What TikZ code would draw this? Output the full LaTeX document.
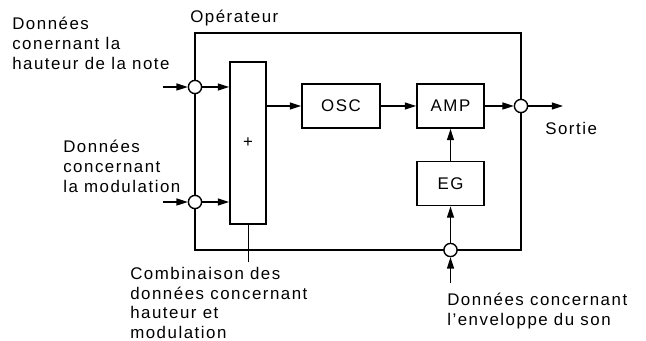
\documentclass[tikz,border=0pt]{standalone}
\usepackage{fontspec}
\setmainfont[LetterSpace=9]{Liberation Sans}
\usetikzlibrary{arrows.meta}

\begin{document}
\begin{tikzpicture}
[
	block/.style={draw,line width=1.3pt,minimum width=1.675cm,minimum height=1.1cm,inner sep=0pt,font=\fontsize{12}{14.2}\selectfont},
	junct/.style={circle,draw,fill=white,line width=1pt,inner sep=0pt,minimum size=0.33cm},
	sig/.style={line width=0.8pt,-{Triangle[length=8pt,width=5pt]}},
	lbl/.style={align=left,inner sep=0pt,font=\fontsize{12}{14.2}\selectfont},
	scale=1
]
	\useasboundingbox (0,0) rectangle (16.15,8.525);

	% operator frame
	\draw[line width=2pt] (4.875,2.275) rectangle (13.025,7.7);
	\node[lbl,anchor=base west] at (4.75,7.95) (op) {Opérateur};

	\node[block,minimum width=0.9cm,minimum height=4.05cm] at (6.2,4.95) (plus) {+};
	\node[block,minimum width=1.95cm] at (8.525,5.875) (osc) {OSC};
	\node[block] at (11.2625,5.875) (amp) {AMP};
	\node[block] at (11.2625,3.9375) (eg) {EG};

	\node[junct] at (4.875,6.35) (in1) {};
	\node[junct] at (4.875,3.475) (in2) {};
	\node[junct] at (13.025,5.875) (out) {};
	\node[junct] at (11.2625,2.275) (env) {};

	\coordinate (src1) at (4.075,6.35);
	\coordinate (src2) at (4.075,3.475);
	\coordinate (srcenv) at (11.2625,1.45);
	\coordinate (sortie) at (14.075,5.875);
	\coordinate (ptr) at (6.2,1.975);

	% signal paths
	\draw[sig] (src1) -- (in1);
	\draw[sig] (in1) -- (plus.west |- in1);
	\draw[sig] (src2) -- (in2);
	\draw[sig] (in2) -- (plus.west |- in2);
	\draw[sig] (plus.east |- osc.west) -- (osc.west);
	\draw[sig] (osc) -- (amp);
	\draw[sig] (amp) -- (out);
	\draw[sig] (out) -- (sortie);
	\draw[sig] (eg) -- (amp);
	\draw[sig] (env) -- (eg);
	\draw[sig] (srcenv) -- (env);
	\draw[line width=0.6pt] (plus.south) -- (ptr);

	% labels
	\node[lbl,anchor=north west] at (0.3,8.11) (hauteur) {Données\\conernant la\\hauteur de la note};
	\node[lbl,anchor=north west] at (1.575,5.02) (modul) {Données\\concernant\\la modulation};
	\node[lbl,anchor=north west,font=\fontsize{12}{13.9}\selectfont] at (3.25,1.84) (comb) {Combinaison des\\données concernant\\hauteur et\\modulation};
	\node[lbl,anchor=north west] at (11.175,1.2) (envel) {Données concernant\\l'enveloppe du son};
	\node[lbl,anchor=base west] at (13.625,5.15) (sort) {Sortie};

\end{tikzpicture}
\end{document}
